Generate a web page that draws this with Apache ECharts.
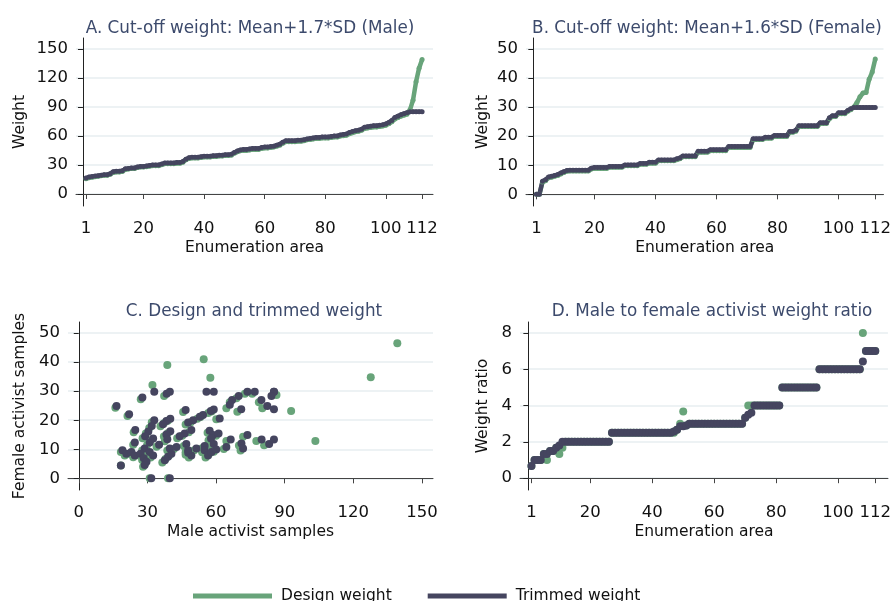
<!DOCTYPE html>
<html>
<head>
<meta charset="utf-8">
<title>Design and trimmed weights</title>
<script src="https://cdn.jsdelivr.net/npm/echarts@6/dist/echarts.min.js"></script>
<style>
  html, body { margin: 0; padding: 0; background: #fff; }
  #main { width: 894px; height: 601px; }
</style>
</head>
<body>
<div id="main"></div>
<script>
// sorted male weights, panel A
var aDesign = [15.8,16.8,17.3,17.8,18.3,18.8,19.3,19.3,20.3,22.3,
  22.8,22.8,23.3,25.3,25.8,26.3,26.3,27.3,27.8,27.8,
  28.3,28.8,29.3,29.3,29.3,30.3,31.3,31.3,31.3,31.3,
  31.8,31.8,32.8,35.3,36.7,37.2,37.2,37.2,37.7,38.2,
  38.2,38.2,38.7,38.7,39.2,39.2,39.7,39.7,40.2,42.2,
  43.6,44.6,45.1,45.1,45.6,46.1,46.1,46.1,47.1,47.6,
  47.6,48.1,48.6,49.5,50.5,52.5,54,54,54,54,
  54.5,54.5,55,56,56.4,56.9,57.4,57.4,57.9,57.9,
  57.9,58.4,58.9,58.9,59.9,60.3,60.8,62.3,63.3,64.3,
  64.8,65.8,67.7,68.2,68.7,69.2,69.2,69.7,70.2,71.1,
  72.6,74.6,77.5,79,80.5,81.5,82.5,87,97,116,
  130,139];
var aTrim = [16.5,17.5,18,18.5,19,19.5,20,20,21,23,
  23.5,23.5,24,26,26.5,27,27,28,28.5,28.5,
  29,29.5,30,30,30,31,32,32,32,32,
  32.5,32.5,33.5,36,37.5,38,38,38,38.5,39,
  39,39,39.5,39.5,40,40,40.5,40.5,41,43,
  44.5,45.5,46,46,46.5,47,47,47,48,48.5,
  48.5,49,49.5,50.5,51.5,53.5,55,55,55,55,
  55.5,55.5,56,57,57.5,58,58.5,58.5,59,59,
  59,59.5,60,60,61,61.5,62,63.5,64.5,65.5,
  66,67,69,69.5,70,70.5,70.5,71,71.5,72.5,
  74,76,79,80.5,82,83,84,85,85,85,
  85,85];

// sorted female weights, panel B
var bDesign = [0,0,4.2,4.7,5.7,5.9,6.2,6.5,7,7.5,
  7.9,8,8,8,8,8,8,8,8.7,8.9,
  8.9,8.9,8.9,8.9,9.3,9.3,9.3,9.3,9.3,9.8,
  9.8,9.8,9.8,9.8,10.3,10.3,10.3,10.7,10.7,10.7,
  11.5,11.5,11.5,11.5,11.5,11.5,11.9,12.2,12.9,12.9,
  12.9,12.9,12.9,14.5,14.5,14.5,14.5,15,15,15,
  15,15,15,16.1,16.1,16.1,16.1,16.1,16.1,16.1,
  16.1,18.8,18.8,18.8,18.8,19.3,19.3,19.3,19.9,19.9,
  19.9,19.9,19.9,21.3,21.3,21.7,23.3,23.3,23.3,23.3,
  23.3,23.3,23.3,24.3,24.3,24.3,26,26.7,26.7,27.7,
  27.7,27.7,28.5,29.1,30,31.5,33.5,34.8,35,39.5,
  42,46.5];
var bTrim = [0,0,4.5,5,6,6.2,6.5,6.8,7.3,7.8,
  8.2,8.3,8.3,8.3,8.3,8.3,8.3,8.3,9,9.2,
  9.2,9.2,9.2,9.2,9.6,9.6,9.6,9.6,9.6,10.1,
  10.1,10.1,10.1,10.1,10.6,10.6,10.6,11,11,11,
  11.8,11.8,11.8,11.8,11.8,11.8,12.2,12.5,13.2,13.2,
  13.2,13.2,13.2,14.8,14.8,14.8,14.8,15.3,15.3,15.3,
  15.3,15.3,15.3,16.4,16.4,16.4,16.4,16.4,16.4,16.4,
  16.4,19.1,19.1,19.1,19.1,19.6,19.6,19.6,20.2,20.2,
  20.2,20.2,20.2,21.6,21.6,22,23.6,23.6,23.6,23.6,
  23.6,23.6,23.6,24.6,24.6,24.6,26.3,27,27,28,
  28,28,28.8,29.4,29.8,29.8,29.8,29.8,29.8,29.8,
  29.8,29.8];

// panel C: [male, female] per enumeration area
var cDesign = [[32.2,32.1],[37.3,28.3],[38.7,39],[54.6,41],[57.5,34.6],[72.6,29.1],[75.8,29.1],
  [139.2,46.5],[127.6,34.8],[86.4,28.7],[27.1,27.2],[68.9,27.6],[66,26.2],[64.5,24.1],
  [78.7,26.2],[80.2,24.1],[92.8,23.2],[69.3,22.9],[16,24.3],[21.3,21.5],[45.6,22.8],
  [58,23],[56.6,22.5],[53.2,21.1],[51.8,20.5],[48.9,19.3],[46.7,18.5],[38.9,19.8],
  [37.2,19],[35.7,17.9],[60.1,20.3],[31.9,19.3],[30.8,17.3],[29.3,15.4],[27.9,13.8],
  [24,15.9],[38.9,15.5],[37.2,14.4],[37.6,12.8],[48.1,15.9],[45.2,14.7],[43,13.8],
  [56.3,15.7],[57.6,14.2],[60,14.7],[56.7,13],[23.8,11.6],[27.7,9.6],[29.9,11.6],
  [31.4,13],[34,10.9],[38.7,9.6],[41.6,10.1],[45.9,11.1],[50.3,9.6],[53.9,10.4],
  [57.9,11.1],[64.5,12.9],[63.4,10.1],[70,11.3],[71.8,14.3],[70.7,9.6],[77.6,12.9],
  [81,11.4],[103.4,12.9],[18.4,9.1],[20.1,7.9],[22.3,8.5],[23.8,7.3],[26.3,7.9],
  [27.7,6.3],[28.9,5.1],[28.1,4],[18.4,4.4],[29.9,8.4],[31.4,7.2],[36.5,5.5],
  [37.9,6.7],[39.4,7.8],[46.7,8.1],[48.1,7.2],[46.7,9],[53.9,9],[55.4,7.2],
  [56.9,8.4],[59,9.2],[31,0],[39,0]];
var cTrim = [[33,29.8],[38.4,29.1],[39.8,29.8],[55.8,29.8],[59,29.8],[73.7,29.8],[76.9,29.8],
  [85.3,29.8],[85.3,29.8],[84.2,28.3],[27.8,27.8],[69.9,28.3],[67,27],[66,25.3],
  [79.8,27],[82.4,24.9],[85.3,23.8],[71,23.8],[16.5,24.9],[22,22.1],[46.7,23.5],
  [59,23.7],[57.7,23.2],[54.3,21.8],[52.9,21.2],[50,20],[47.8,19.2],[40,20.5],
  [38.3,19.7],[36.8,18.6],[61.6,20.6],[33,20],[31.9,18],[30.4,16.1],[29,14.5],
  [24.7,16.6],[40,16.2],[38.3,15.1],[38.7,13.5],[49.2,16.6],[46.3,15.4],[44.1,14.5],
  [57.2,16.4],[58.7,14.9],[61.1,15.4],[57.8,13.7],[24.5,12.3],[28.8,10.3],[31,12.3],
  [32.5,13.7],[35.1,11.6],[39.8,10.3],[42.7,10.8],[47,11.8],[51.4,10.3],[55,11.1],
  [59,11.8],[66.4,13.4],[64.5,10.8],[71.1,12],[73.7,14.9],[71.8,10.3],[79.9,13.4],
  [83.2,11.8],[85.3,13.4],[19.1,9.7],[20.8,8.5],[23,9.1],[24.5,7.9],[27,8.5],
  [28.4,6.9],[29.6,5.7],[28.8,4.6],[18.4,4.4],[31,9.1],[32.5,7.9],[37.6,6.2],
  [39,7.4],[40.5,8.5],[47.8,8.8],[49.2,7.9],[47.8,9.7],[55,9.7],[56.5,7.9],
  [58,9.1],[60.1,9.9],[31.7,0],[39.8,0]];

// panel D: male to female weight ratio, sorted
var dDesign = [0.67,1,1,1,1.33,1,1.5,1.5,1.67,1.33,
  1.67,2,2,2,2,2,2,2,2,2,
  2,2,2,2,2,2,2.5,2.5,2.5,2.5,
  2.5,2.5,2.5,2.5,2.5,2.5,2.5,2.5,2.5,2.5,
  2.5,2.5,2.5,2.5,2.5,2.5,2.5,2.67,3,3.67,
  2.9,3,3,3,3,3,3,3,3,3,
  3,3,3,3,3,3,3,3,3,3.33,
  4,4,4,4,4,4,4,4,4,4,
  4,5,5,5,5,5,5,5,5,5,
  5,5,5,6,6,6,6,6,6,6,
  6,6,6,6,6,6,6,8,7,7,
  7,7];
var dTrim = [0.67,1,1,1,1.33,1.33,1.5,1.5,1.67,1.8,
  2,2,2,2,2,2,2,2,2,2,
  2,2,2,2,2,2,2.5,2.5,2.5,2.5,
  2.5,2.5,2.5,2.5,2.5,2.5,2.5,2.5,2.5,2.5,
  2.5,2.5,2.5,2.5,2.5,2.5,2.57,2.67,2.86,2.86,
  2.9,3,3,3,3,3,3,3,3,3,
  3,3,3,3,3,3,3,3,3,3.33,
  3.5,3.6,4,4,4,4,4,4,4,4,
  4,5,5,5,5,5,5,5,5,5,
  5,5,5,6,6,6,6,6,6,6,
  6,6,6,6,6,6,6,6.43,7,7,
  7,7];

var eaTicks = [1, 20, 40, 60, 80, 100, 112];
var titles = ['A. Cut-off weight: Mean+1.7*SD (Male)', 'B. Cut-off weight: Mean+1.6*SD (Female)',
  'C. Design and trimmed weight', 'D. Male to female activist weight ratio'];

var GREEN = '#68a47a', DARK = '#45455f';
var FONT = 'DejaVu Sans';

function idx(arr) {
  return arr.map(function (v, i) { return [i + 1, v]; });
}

function xAx(gi, min, max, ticks, name) {
  return {
    type: 'value', gridIndex: gi, min: min, max: max,
    name: name, nameLocation: 'middle', nameGap: 33.5,
    nameTextStyle: { fontFamily: FONT, fontSize: 15.5, color: '#111' },
    axisLine: { show: true, lineStyle: { color: '#444' } },
    axisTick: { show: true, length: 5, customValues: ticks, lineStyle: { color: '#444' } },
    axisLabel: { customValues: ticks, margin: 14, fontFamily: FONT, fontSize: 16.5, color: '#111' },
    splitLine: { show: false }
  };
}
function yAx(gi, min, max, ticks, name, gap) {
  return {
    type: 'value', gridIndex: gi, min: min, max: max,
    name: name, nameLocation: 'middle', nameGap: gap,
    nameTextStyle: { fontFamily: FONT, fontSize: 15.5, color: '#111' },
    axisLine: { show: true, lineStyle: { color: '#222' } },
    axisTick: { show: true, length: 5, customValues: ticks, lineStyle: { color: '#222' } },
    axisLabel: { customValues: ticks, margin: 8, fontFamily: FONT, fontSize: 16.5, color: '#111' },
    splitLine: { show: true, lineStyle: { color: '#e7eef1', width: 1.5 } }
  };
}
function lineS(name, color, gi, arr) {
  return {
    name: name, type: 'line', xAxisIndex: gi, yAxisIndex: gi, data: idx(arr),
    symbol: 'circle', symbolSize: 5, showSymbol: true,
    itemStyle: { color: color }, lineStyle: { color: color, width: 4.5 },
    animation: false
  };
}
function dotS(name, color, gi, data) {
  return {
    name: name, type: 'scatter', xAxisIndex: gi, yAxisIndex: gi, data: data,
    symbolSize: 8, itemStyle: { color: color, opacity: 1 }, animation: false
  };
}

var chart = echarts.init(document.getElementById('main'));
chart.setOption({
  backgroundColor: '#fff',
  title: [
    { text: titles[0], left: 245, top: 15, textAlign: 'center' },
    { text: titles[1], left: 702, top: 15, textAlign: 'center' },
    { text: titles[2], left: 249, top: 298, textAlign: 'center' },
    { text: titles[3], left: 707, top: 298, textAlign: 'center' }
  ].map(function (t) {
    t.textStyle = { fontFamily: FONT, fontSize: 16.8, fontWeight: 'normal', color: '#3c4a6c' };
    return t;
  }),
  legend: {
    data: ['Design weight', 'Trimmed weight'], left: 188, top: 583,
    icon: 'rect', itemWidth: 79, itemHeight: 5, itemGap: 36,
    textStyle: { fontFamily: FONT, fontSize: 15.5, color: '#111', padding: [4, 0, 0, 4] }
  },
  grid: [
    { left: 76, top: 38, width: 357, height: 168 },
    { left: 526, top: 38, width: 368, height: 168 },
    { left: 68, top: 322, width: 365, height: 168 },
    { left: 520, top: 322, width: 374, height: 168 }
  ],
  xAxis: [
    xAx(0, -2.3, 115.6, eaTicks, 'Enumeration area'),
    xAx(1, -2.4, 114.7, eaTicks, 'Enumeration area'),
    xAx(2, -4.7, 154.8, [0, 30, 60, 90, 120, 150], 'Male activist samples'),
    xAx(3, -2.7, 116.1, eaTicks, 'Enumeration area')
  ],
  yAxis: [
    yAx(0, -12.4, 161.3, [0, 30, 60, 90, 120, 150], 'Weight', 48),
    yAx(1, -4, 53.7, [0, 10, 20, 30, 40, 50], 'Weight', 35),
    yAx(2, -4, 53.8, [0, 10, 20, 30, 40, 50], 'Female activist samples', 40),
    yAx(3, -0.65, 8.6, [0, 2, 4, 6, 8], 'Weight ratio', 29)
  ],
  series: [
    lineS('Design weight', GREEN, 0, aDesign),
    lineS('Trimmed weight', DARK, 0, aTrim),
    lineS('Design weight', GREEN, 1, bDesign),
    lineS('Trimmed weight', DARK, 1, bTrim),
    dotS('Design weight', GREEN, 2, cDesign),
    dotS('Trimmed weight', DARK, 2, cTrim),
    dotS('Design weight', GREEN, 3, idx(dDesign)),
    dotS('Trimmed weight', DARK, 3, idx(dTrim))
  ]
});
</script>
</body>
</html>
